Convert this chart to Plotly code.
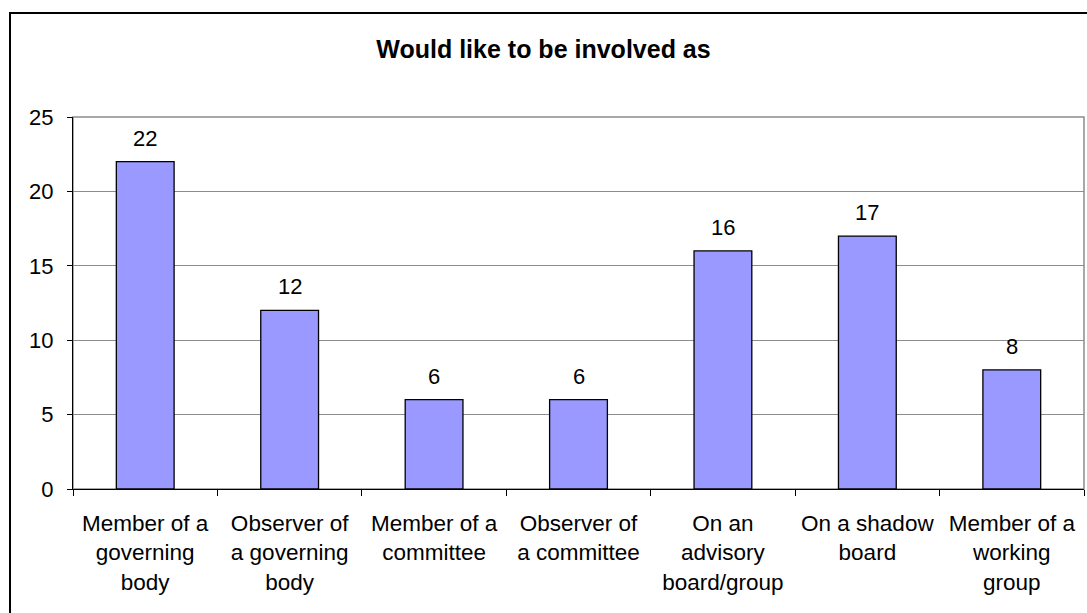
import plotly.graph_objects as go

categories = [
    "Member of a<br>governing<br>body",
    "Observer of<br>a governing<br>body",
    "Member of a<br>committee",
    "Observer of<br>a committee",
    "On an<br>advisory<br>board/group",
    "On a shadow<br>board",
    "Member of a<br>working<br>group",
]
counts = [22, 12, 6, 6, 16, 17, 8]
y_ticks = [0, 5, 10, 15, 20, 25]
title_text = "Would like to be involved as"

FONT = "Liberation Sans, Arial, sans-serif"

fig = go.Figure()
fig.add_trace(go.Bar(
    x=categories,
    y=counts,
    marker=dict(color="#9999FF", line=dict(color="black", width=1.3)),
    hoverinfo="skip",
))

# value labels above each bar
for cat, val in zip(categories, counts):
    fig.add_annotation(
        x=cat, y=val, text=str(val), showarrow=False,
        yanchor="bottom", yshift=9,
        font=dict(family=FONT, size=22, color="black"),
    )

# plot-area frame (grey) and the outer chart border
fig.add_shape(type="rect", xref="paper", yref="paper", x0=0, x1=1, y0=0, y1=1,
              line=dict(color="#8c8c8c", width=1.5), layer="below")
fig.add_shape(type="rect", xref="paper", yref="paper",
              x0=-0.0623, x1=1.2, y0=-0.6, y1=1.2796,
              line=dict(color="black", width=2), layer="above")

fig.update_layout(
    width=1087, height=613,
    margin=dict(l=73, r=3, t=117, b=124),
    paper_bgcolor="white", plot_bgcolor="white",
    showlegend=False,
    bargap=0.6,
    font=dict(family=FONT, size=22, color="black"),
    title=dict(text=f"<b>{title_text}</b>", x=0.5, xanchor="center",
               y=1 - 49 / 613, yanchor="middle",
               font=dict(family=FONT, size=25, color="black")),
)
fig.update_xaxes(
    showline=True, linecolor="black", linewidth=1.3,
    ticks="outside", tickson="boundaries", ticklen=6, tickcolor="black",
    tickwidth=1.3, showgrid=False, ticklabelstandoff=14,
    tickfont=dict(family=FONT, size=22.5),
)
fig.update_yaxes(
    range=[0, 25], tickvals=y_ticks, showline=True, linecolor="black",
    linewidth=1.3, ticks="outside", ticklen=5, tickcolor="black", tickwidth=1.3,
    showgrid=True, gridcolor="#8c8c8c", gridwidth=1.2, zeroline=False,
    ticklabelstandoff=9, tickfont=dict(family=FONT, size=22),
)

fig.write_html("out.html")
